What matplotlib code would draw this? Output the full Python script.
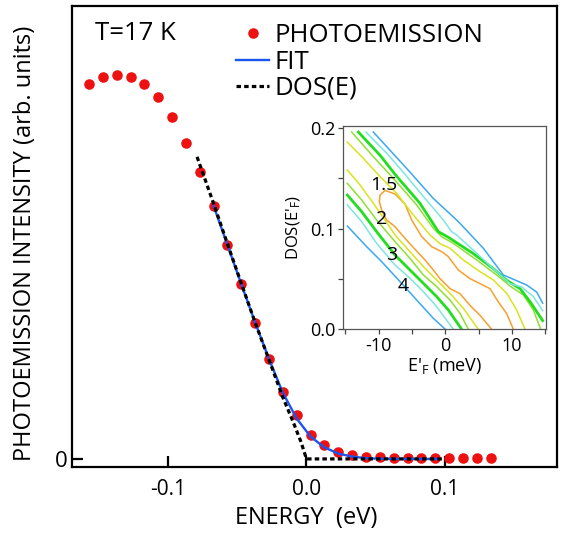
import matplotlib
matplotlib.use("Agg")
import matplotlib.pyplot as plt
from matplotlib.ticker import FixedLocator

plt.rcParams['font.family'] = ['Open Sans', 'DejaVu Sans']
plt.rcParams['mathtext.default'] = 'regular'
plt.rcParams['axes.unicode_minus'] = False

# main panel data
energy = [-0.157 + 0.01 * i for i in range(30)]
intensity = [0.978, 0.994, 1.000, 0.994, 0.977, 0.942, 0.891, 0.824, 0.748, 0.659,
             0.557, 0.455, 0.355, 0.260, 0.175, 0.115, 0.062, 0.036, 0.019, 0.010,
             0.006, 0.004, 0.003, 0.002, 0.002, 0.002, 0.002, 0.002, 0.002, 0.002]

fit_e = [-0.067, -0.057, -0.047, -0.037, -0.027, -0.017, -0.007, 0.003, 0.013,
         0.023, 0.033, 0.043, 0.053, 0.07, 0.095]
fit_i = [0.659, 0.557, 0.455, 0.355, 0.260, 0.172, 0.105, 0.058, 0.030,
         0.014, 0.006, 0.002, 0.0005, 0.0, 0.0]

dos_e = [-0.079, -0.067, -0.057, -0.047, -0.037, -0.027, -0.017, -0.010, -0.004, 0.0, 0.1]
dos_i = [0.787, 0.665, 0.560, 0.457, 0.355, 0.258, 0.160, 0.100, 0.045, 0.0, 0.0]

# inset contour lines (E'_F in meV, DOS)
blue_up_e = [-10.8, -5.55, -1.8, 1.95, 5.7, 8.7, 10.1, 12.2, 13.7, 14.6]
blue_up_d = [0.196, 0.158, 0.130, 0.107, 0.0805, 0.054, 0.050, 0.044, 0.037, 0.026]
cyan_up_e = [-11.9, -8.8, -6.55, -3.3, -0.3, 0.95, 1.7, 4.7, 7.7, 9.7, 11.45, 13.2, 14.6]
cyan_up_d = [0.196, 0.175, 0.158, 0.132, 0.1086, 0.097, 0.0937, 0.0755, 0.0573, 0.0454, 0.042, 0.0325, 0.0185]
green_up_e = [-13.05, -9.8, -7.3, -3.8, -1.05, 0.45, 4.2, 7.2, 9.2, 11.2, 12.7, 14.6]
green_up_d = [0.196, 0.173, 0.152, 0.1252, 0.097, 0.0914, 0.0752, 0.0603, 0.0487, 0.0404, 0.0275, 0.0086]
lgreen_up_e = [-14.05, -10.8, -7.8, -4.3, -1.8, -0.55, 1.2, 4.7, 7.7, 9.7, 11.7, 13.2, 14.3]
lgreen_up_d = [0.196, 0.1715, 0.150, 0.1235, 0.1003, 0.092, 0.0854, 0.0689, 0.054, 0.043, 0.0341, 0.0192, 0.0]
yellow_up_e = [-14.7, -12.3, -9.8, -7.3, -4.8, -2.3, -0.8, 0.7, 2.7, 5.2, 7.2, 9.2, 10.7, 11.95]
yellow_up_d = [0.186, 0.1699, 0.1517, 0.1351, 0.1136, 0.0937, 0.0851, 0.0805, 0.0689, 0.0573, 0.049, 0.0358, 0.0192, 0.0]
orange_e = [6.95, 5.2, 3.7, 2.2, 0.7, -0.8, -1.8, -3.05, -4.55, -6.05, -7.55, -8.8, -9.55, -9.9, -9.8,
            -9.05, -7.55, -6.05, -5.05, -3.55, -2.05, -0.55, 0.45, 1.95, 3.7, 5.2, 6.7, 7.95, 9.2, 10.2]
orange_d = [0.0, 0.0139, 0.0238, 0.0354, 0.0404, 0.0503, 0.0589, 0.0689, 0.0795, 0.0904, 0.102, 0.1086,
            0.1185, 0.1268, 0.1334, 0.138, 0.1344, 0.1245, 0.1086, 0.0921, 0.0821, 0.0772, 0.0722,
            0.0589, 0.0503, 0.0454, 0.0404, 0.0272, 0.0156, 0.0]
yellow_lo_e = [-14.7, -12.8, -10.8, -9.05, -7.55, -5.3, -3.3, -1.3, 0.7, 2.7, 4.95]
yellow_lo_d = [0.1583, 0.1434, 0.1252, 0.1086, 0.0937, 0.0771, 0.0623, 0.049, 0.0358, 0.0209, 0.0]
lgreen_lo_e = [-14.7, -12.55, -10.3, -7.55, -5.3, -3.3, -1.3, 0.7, 2.2, 3.45]
lgreen_lo_d = [0.145, 0.1285, 0.1086, 0.0871, 0.0705, 0.054, 0.0424, 0.0291, 0.0159, 0.0]
green_lo_e = [-14.7, -12.55, -10.3, -7.55, -5.3, -3.3, -1.3, 0.45, 2.45]
green_lo_d = [0.1334, 0.1169, 0.097, 0.0738, 0.0589, 0.0457, 0.0325, 0.0192, 0.0]
cyan_lo_e = [-14.7, -12.55, -10.3, -7.55, -5.3, -3.3, -1.3, 1.2]
cyan_lo_d = [0.1235, 0.107, 0.0854, 0.0639, 0.0507, 0.0374, 0.0225, 0.0]
blue_lo_e = [-14.7, -11.8, -9.55, -6.8, -4.3, -1.8, 0.0]
blue_lo_d = [0.1026, 0.0821, 0.0672, 0.0474, 0.0291, 0.0109, 0.0]

level_labels = ['1.5', '2', '3', '4']
label_e = [-9.3, -9.55, -8.05, -6.3]
label_d = [0.143, 0.110, 0.074, 0.043]

BLUE_C = '#3aa8f0'
CYAN_C = '#7de6df'
GREEN_C = '#22dd22'
LGREEN_C = '#8fe030'
YELLOW_C = '#d9e31e'
ORANGE_C = '#f7a02e'

fig = plt.figure(figsize=(5.61, 5.38), dpi=100)
ax = fig.add_axes([0.1283, 0.1320, 0.8645, 0.8569])

ax.plot(energy, intensity, 'o', color='#ee1111', markersize=7.6, markeredgewidth=0,
        label='PHOTOEMISSION', zorder=2)
ax.plot(fit_e, fit_i, '-', color='#1a55f0', lw=1.7, label='FIT', zorder=3)
ax.plot(dos_e, dos_i, color='black', lw=2.3, linestyle=(0, (1.4, 1.0)), label='DOS(E)', zorder=4)

ax.set_xlim(-0.1693, 0.1809)
ax.set_ylim(-0.021, 1.18)
ax.set_xticks([-0.1, 0.0, 0.1])
ax.set_xticklabels(['-0.1', '0.0', '0.1'])
ax.set_yticks([0])
ax.set_yticklabels(['0'])
ax.tick_params(direction='in', length=8, width=1.6, labelsize=15)
ax.tick_params(axis='x', pad=9)
ax.tick_params(axis='y', pad=3, labelsize=16)
for s in ax.spines.values():
    s.set_linewidth(1.6)

ax.set_xlabel('ENERGY  (eV)', fontsize=17)
ax.xaxis.set_label_coords(0.482, -0.085)
ax.set_ylabel('PHOTOEMISSION INTENSITY (arb. units)', fontsize=17)
ax.yaxis.set_label_coords(-0.072, 0.486)

ax.text(0.047, 0.941, 'T=17 K', transform=ax.transAxes, fontsize=18.5, va='center', ha='left')

ax.legend(loc='upper left', bbox_to_anchor=(0.338, 0.962), frameon=False, fontsize=18.5,
          numpoints=1, handlelength=1.3, handletextpad=0.2, labelspacing=0.04,
          borderpad=0, borderaxespad=0)

# inset
ins = fig.add_axes([0.612, 0.3879, 0.3613, 0.3779])
ins.plot(blue_lo_e, blue_lo_d, color=BLUE_C, lw=1.1)
ins.plot(cyan_lo_e, cyan_lo_d, color=CYAN_C, lw=1.1)
ins.plot(green_lo_e, green_lo_d, color=GREEN_C, lw=2.0)
ins.plot(lgreen_lo_e, lgreen_lo_d, color=LGREEN_C, lw=1.1)
ins.plot(yellow_lo_e, yellow_lo_d, color=YELLOW_C, lw=1.1)
ins.plot(orange_e, orange_d, color=ORANGE_C, lw=1.1)
ins.plot(yellow_up_e, yellow_up_d, color=YELLOW_C, lw=1.1)
ins.plot(lgreen_up_e, lgreen_up_d, color=LGREEN_C, lw=1.1)
ins.plot(green_up_e, green_up_d, color=GREEN_C, lw=2.0)
ins.plot(cyan_up_e, cyan_up_d, color=CYAN_C, lw=1.1)
ins.plot(blue_up_e, blue_up_d, color=BLUE_C, lw=1.1)
for t, x, y in zip(level_labels, label_e, label_d):
    ins.text(x, y, t, fontsize=14, ha='center', va='center')

ins.set_xlim(-15.3, 15.1)
ins.set_ylim(0, 0.202)
ins.xaxis.set_major_locator(FixedLocator([-10, 0, 10]))
ins.xaxis.set_minor_locator(FixedLocator([-15, -5, 5, 15]))
ins.yaxis.set_major_locator(FixedLocator([0.0, 0.1, 0.2]))
ins.yaxis.set_minor_locator(FixedLocator([0.05, 0.15]))
ins.set_yticklabels(['0.0', '0.1', '0.2'])
ins.tick_params(which='both', direction='out', length=3.5, width=0.9, color='#444444',
                labelsize=13, pad=2)
for s in ins.spines.values():
    s.set_linewidth(0.9)
    s.set_color('#555555')
ins.set_xlabel("E$'_F$ (meV)", fontsize=13, labelpad=1)
ins.set_ylabel("DOS(E$'_F$)", fontsize=12, labelpad=5)

fig.savefig('out.png', dpi=100)
